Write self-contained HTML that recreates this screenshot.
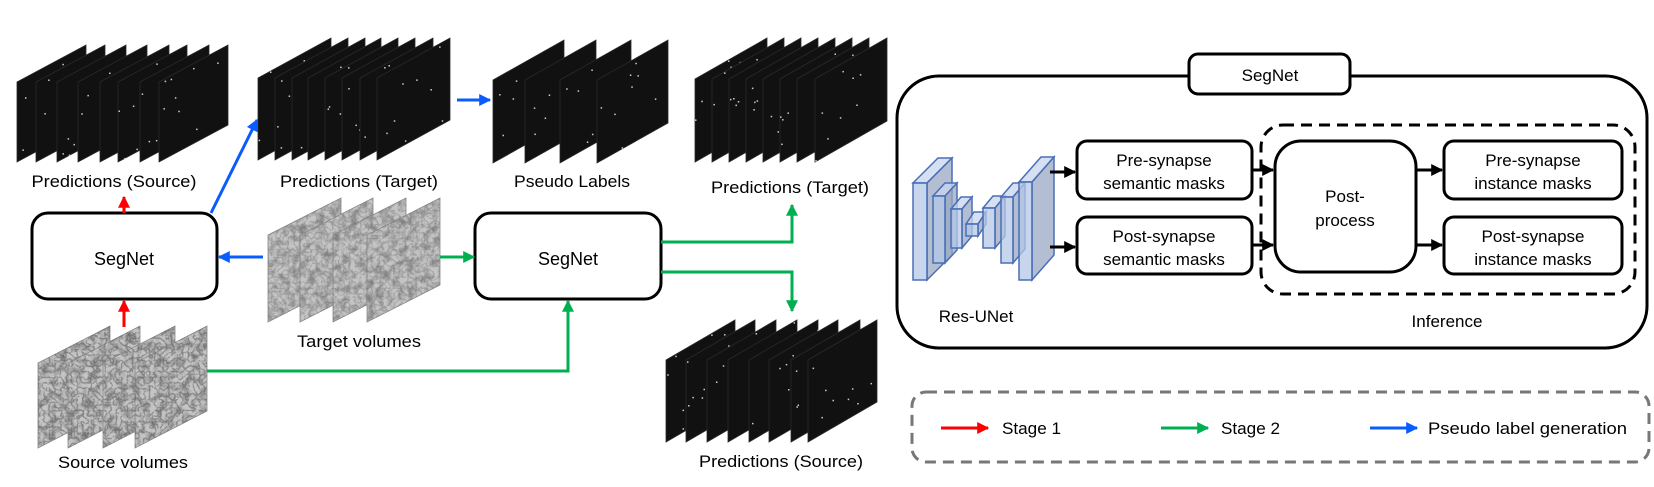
<!DOCTYPE html>
<html><head><meta charset="utf-8">
<style>
html,body{margin:0;padding:0;background:#fff;}
svg{display:block;}
text{font-family:"Liberation Sans",sans-serif;fill:#000;}
</style></head>
<body>
<svg id="s" width="1654" height="487" viewBox="0 0 1654 487" xmlns="http://www.w3.org/2000/svg">
<defs>
<filter id="em2" x="0" y="0" width="100%" height="100%">
<feTurbulence type="fractalNoise" baseFrequency="0.12" numOctaves="4" seed="9"/>
<feColorMatrix type="matrix" values="0 0 0 0 0.25  0 0 0 0 0.25  0 0 0 0 0.25  3 0 0 0 -1.25"/>
<feComposite in2="SourceGraphic" operator="in"/>
</filter>
<filter id="em3" x="0" y="0" width="100%" height="100%">
<feTurbulence type="turbulence" baseFrequency="0.18" numOctaves="2" seed="3"/>
<feColorMatrix type="matrix" values="0 0 0 0 0.1  0 0 0 0 0.1  0 0 0 0 0.1  0 0 0 -3 0.9"/>
<feComposite in2="SourceGraphic" operator="in"/>
</filter>
<marker id="ar" viewBox="0 0 10 10" refX="9" refY="5" markerWidth="4" markerHeight="4" orient="auto"><path d="M0,0L10,5L0,10z" fill="#f00"/></marker>
<marker id="ab" viewBox="0 0 10 10" refX="9" refY="5" markerWidth="4" markerHeight="4" orient="auto"><path d="M0,0L10,5L0,10z" fill="#0a5cff"/></marker>
<marker id="ag" viewBox="0 0 10 10" refX="9" refY="5" markerWidth="4" markerHeight="4" orient="auto"><path d="M0,0L10,5L0,10z" fill="#00b050"/></marker>
<marker id="ak" viewBox="0 0 10 10" refX="9" refY="5" markerWidth="4" markerHeight="4" orient="auto"><path d="M0,0L10,5L0,10z" fill="#000"/></marker>
</defs>
<g id="stacks"></g>

<rect x="32" y="213" width="185" height="86" rx="16" fill="#fff" stroke="#000" stroke-width="3"/>
<text x="124" y="265" font-size="18" text-anchor="middle">SegNet</text>
<rect x="475" y="213" width="186" height="86" rx="16" fill="#fff" stroke="#000" stroke-width="3"/>
<text x="568" y="265" font-size="18" text-anchor="middle">SegNet</text>

<text x="114" y="187" font-size="17" text-anchor="middle" textLength="165" lengthAdjust="spacingAndGlyphs">Predictions (Source)</text>
<text x="359" y="187" font-size="17" text-anchor="middle" textLength="158" lengthAdjust="spacingAndGlyphs">Predictions (Target)</text>
<text x="572" y="187" font-size="17" text-anchor="middle" textLength="116" lengthAdjust="spacingAndGlyphs">Pseudo Labels</text>
<text x="790" y="193" font-size="17" text-anchor="middle" textLength="158" lengthAdjust="spacingAndGlyphs">Predictions (Target)</text>
<text x="359" y="347" font-size="17" text-anchor="middle" textLength="124" lengthAdjust="spacingAndGlyphs">Target volumes</text>
<text x="123" y="468" font-size="17" text-anchor="middle" textLength="130" lengthAdjust="spacingAndGlyphs">Source volumes</text>
<text x="781" y="467" font-size="17" text-anchor="middle" textLength="164" lengthAdjust="spacingAndGlyphs">Predictions (Source)</text>

<line x1="124" y1="213" x2="124" y2="197" stroke="#f00" stroke-width="3" marker-end="url(#ar)"/>
<line x1="124" y1="327" x2="124" y2="301" stroke="#f00" stroke-width="3" marker-end="url(#ar)"/>
<line x1="211" y1="213" x2="257" y2="120" stroke="#0a5cff" stroke-width="3" marker-end="url(#ab)"/>
<line x1="263" y1="257" x2="219" y2="257" stroke="#0a5cff" stroke-width="3" marker-end="url(#ab)"/>
<line x1="457" y1="100" x2="490" y2="100" stroke="#0a5cff" stroke-width="3" marker-end="url(#ab)"/>
<line x1="440" y1="257" x2="474" y2="257" stroke="#00b050" stroke-width="3" marker-end="url(#ag)"/>
<polyline points="207,371 568,371 568,301" fill="none" stroke="#00b050" stroke-width="3" marker-end="url(#ag)"/>
<polyline points="661,242 792,242 792,205" fill="none" stroke="#00b050" stroke-width="3" marker-end="url(#ag)"/>
<polyline points="661,272 792,272 792,311" fill="none" stroke="#00b050" stroke-width="3" marker-end="url(#ag)"/>

<rect x="897" y="76" width="750" height="272" rx="42" fill="#fff" stroke="#000" stroke-width="3"/>
<rect x="1189" y="54" width="161" height="40" rx="9" fill="#fff" stroke="#000" stroke-width="3"/>
<text x="1270" y="81" font-size="17" text-anchor="middle">SegNet</text>

<g id="unet"></g>
<text x="976" y="322" font-size="17" text-anchor="middle">Res-UNet</text>

<rect x="1261" y="125" width="374" height="169" rx="22" fill="none" stroke="#000" stroke-width="3" stroke-dasharray="11,7"/>
<text x="1447" y="327" font-size="17" text-anchor="middle">Inference</text>

<rect x="1077" y="141" width="175" height="58" rx="10" fill="#fff" stroke="#000" stroke-width="3"/>
<text x="1164" y="166" font-size="17" text-anchor="middle">Pre-synapse</text>
<text x="1164" y="189" font-size="17" text-anchor="middle">semantic masks</text>
<rect x="1077" y="217" width="175" height="57" rx="10" fill="#fff" stroke="#000" stroke-width="3"/>
<text x="1164" y="242" font-size="17" text-anchor="middle">Post-synapse</text>
<text x="1164" y="265" font-size="17" text-anchor="middle">semantic masks</text>

<rect x="1275" y="141" width="141" height="131" rx="26" fill="#fff" stroke="#000" stroke-width="3"/>
<text x="1345" y="202" font-size="17" text-anchor="middle">Post-</text>
<text x="1345" y="226" font-size="17" text-anchor="middle">process</text>

<rect x="1444" y="141" width="178" height="58" rx="10" fill="#fff" stroke="#000" stroke-width="3"/>
<text x="1533" y="166" font-size="17" text-anchor="middle">Pre-synapse</text>
<text x="1533" y="189" font-size="17" text-anchor="middle">instance masks</text>
<rect x="1444" y="217" width="178" height="57" rx="10" fill="#fff" stroke="#000" stroke-width="3"/>
<text x="1533" y="242" font-size="17" text-anchor="middle">Post-synapse</text>
<text x="1533" y="265" font-size="17" text-anchor="middle">instance masks</text>

<line x1="1050" y1="172" x2="1075" y2="172" stroke="#000" stroke-width="3" marker-end="url(#ak)"/>
<line x1="1050" y1="247" x2="1075" y2="247" stroke="#000" stroke-width="3" marker-end="url(#ak)"/>
<line x1="1252" y1="170" x2="1273" y2="170" stroke="#000" stroke-width="3" marker-end="url(#ak)"/>
<line x1="1252" y1="245" x2="1273" y2="245" stroke="#000" stroke-width="3" marker-end="url(#ak)"/>
<line x1="1416" y1="170" x2="1442" y2="170" stroke="#000" stroke-width="3" marker-end="url(#ak)"/>
<line x1="1416" y1="245" x2="1442" y2="245" stroke="#000" stroke-width="3" marker-end="url(#ak)"/>

<rect x="912" y="392" width="737" height="70" rx="14" fill="none" stroke="#777" stroke-width="3" stroke-dasharray="11,7"/>
<line x1="941" y1="428" x2="988" y2="428" stroke="#f00" stroke-width="3" marker-end="url(#ar)"/>
<text x="1002" y="434" font-size="17" textLength="59" lengthAdjust="spacingAndGlyphs">Stage 1</text>
<line x1="1161" y1="428" x2="1208" y2="428" stroke="#00b050" stroke-width="3" marker-end="url(#ag)"/>
<text x="1221" y="434" font-size="17" textLength="59" lengthAdjust="spacingAndGlyphs">Stage 2</text>
<line x1="1370" y1="428" x2="1417" y2="428" stroke="#0a5cff" stroke-width="3" marker-end="url(#ab)"/>
<text x="1428" y="434" font-size="17" textLength="199" lengthAdjust="spacingAndGlyphs">Pseudo label generation</text>
</svg>
<script>
var NS="http://www.w3.org/2000/svg";
var g=document.getElementById("stacks");
function el(tag,attrs,parent){var e=document.createElementNS(NS,tag);for(var k in attrs)e.setAttribute(k,attrs[k]);(parent||g).appendChild(e);return e;}
var seed=7;function rnd(){seed=(seed*9301+49297)%233280;return seed/233280;}
function stack(lefts,w,skew,yTop,h,type){
  for(var i=0;i<lefts.length;i++){
    var x=lefts[i];
    var pts=x+","+(yTop+skew)+" "+(x+w)+","+yTop+" "+(x+w)+","+(yTop+h)+" "+x+","+(yTop+skew+h);
    if(type==="dark"){
      el("polygon",{points:pts,fill:"#111",stroke:"#2a2a2a","stroke-width":"0.8"});
      for(var j=0;j<8;j++){var u=rnd(),v=rnd();
        el("rect",{x:x+u*w,y:yTop+skew*(1-u)+v*h,width:1.5,height:1.5,fill:"#ccc"});}
    }else{
      el("polygon",{points:pts,fill:"#c4c4c4",stroke:"#888","stroke-width":"0.8"});
      el("polygon",{points:pts,fill:"#fff",filter:"url(#em2)",opacity:"0.85"});
      el("polygon",{points:pts,fill:"#fff",filter:"url(#em3)",opacity:type==="src"?"0.8":"0.45"});
    }
  }
}
stack([17,36,57,78,100,118,140,159],69,37,45,80,"dark");
stack([258,275,292,308,325,342,360,377],73,40,38,82,"dark");
stack([493,525,560,597],71,40,40,83,"dark");
stack([695,712,729,746,763,780,797,815],72,41,38,83,"dark");
stack([666,686,707,728,749,769,791,808],69,40,320,82,"dark");
stack([268,300,333,367],73,37,198,87,"gray");
stack([38,68,103,135],72,37,326,85,"src");
var u=document.getElementById("unet");
function blk(x,y,w,h,dx,dy){
  var st={stroke:"#4a6fb5","stroke-width":"1.5"};
  function P(p,f){var a={points:p,fill:f,"fill-opacity":"0.75"};for(var k in st)a[k]=st[k];el("polygon",a,u);}
  P(x+","+y+" "+(x+dx)+","+(y-dy)+" "+(x+w+dx)+","+(y-dy)+" "+(x+w)+","+y,"#c9d6ee");
  P((x+w)+","+y+" "+(x+w+dx)+","+(y-dy)+" "+(x+w+dx)+","+(y+h-dy)+" "+(x+w)+","+(y+h),"#9aa8c4");
  P(x+","+y+" "+(x+w)+","+y+" "+(x+w)+","+(y+h)+" "+x+","+(y+h),"#b4c7e7");
}
blk(913,183,14,97,25,25);
blk(933,196,12,67,12,13);
blk(951,209,11,39,10,12);
blk(966,224,12,12,8,12);
blk(983,208,12,40,10,12);
blk(1001,197,12,66,12,14);
blk(1019,182,13,98,22,25);
</script>
</body></html>
